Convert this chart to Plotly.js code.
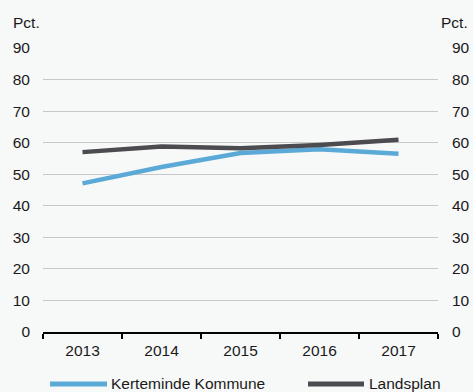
<!DOCTYPE html>
<html>
<head>
<meta charset="utf-8">
<script src="https://cdn.plot.ly/plotly-3.0.1.min.js"></script>
<style>html,body{margin:0;padding:0;background:#f7f8f8;}#chart{width:473px;height:392px;}</style>
</head>
<body>
<div id="chart"></div>
<script>
const years = ['2013', '2014', '2015', '2016', '2017'];
const kerteminde = [47.1, 52.3, 56.7, 57.9, 56.5];
const landsplan = [57.0, 58.8, 58.2, 59.3, 60.9];
const seriesNames = ['Kerteminde Kommune', 'Landsplan'];
const seriesColors = ['#5aa9d6', '#4b4b50'];
const yTicks = [0, 10, 20, 30, 40, 50, 60, 70, 80, 90];
const unitLabel = 'Pct.';

const font = {family: 'Liberation Sans, Arial, sans-serif', size: 15.5, color: '#1a1a1a'};

const traces = [
  {x: years, y: kerteminde, name: seriesNames[0], type: 'scatter', mode: 'lines',
   showlegend: false, line: {color: seriesColors[0], width: 4.5}},
  {x: years, y: landsplan, name: seriesNames[1], type: 'scatter', mode: 'lines',
   showlegend: false, line: {color: seriesColors[1], width: 4.5}},
  {x: years, y: landsplan, yaxis: 'y2', type: 'scatter', mode: 'lines', showlegend: false,
   hoverinfo: 'skip', line: {color: 'rgba(0,0,0,0)', width: 0}}
];

// custom legend (keys and labels) in paper coordinates
const legY = -0.183;
const legendItems = [
  {x0: 0.0177, x1: 0.162, tx: 0.1671},
  {x0: 0.6709, x1: 0.8127, tx: 0.8203}
];
const shapes = legendItems.map((it, i) => ({
  type: 'line', xref: 'paper', yref: 'paper', x0: it.x0, x1: it.x1, y0: legY, y1: legY,
  line: {color: seriesColors[i], width: 5}
}));
const legendAnn = legendItems.map((it, i) => ({
  text: seriesNames[i], xref: 'paper', yref: 'paper', x: it.tx, y: legY,
  xanchor: 'left', yanchor: 'middle', showarrow: false, font: font
}));

const layout = {
  width: 473, height: 392,
  margin: {l: 43, r: 35, t: 48, b: 60},
  paper_bgcolor: '#f7f8f8', plot_bgcolor: '#f7f8f8',
  font: font,
  showlegend: false,
  xaxis: {type: 'category', range: [-0.5, 4.5], tickson: 'boundaries', ticks: 'outside',
          ticklen: 5, tickwidth: 2, tickcolor: '#000', showline: true, linecolor: '#000',
          linewidth: 2, showgrid: false, zeroline: false, tickfont: font, fixedrange: true,
          ticklabelstandoff: 3},
  yaxis: {range: [0, 90], tickvals: yTicks, ticks: '', showline: false, showgrid: true,
          gridcolor: '#c8c8c8', gridwidth: 1, zeroline: false, tickfont: font,
          ticklabelstandoff: 12, fixedrange: true},
  yaxis2: {range: [0, 90], tickvals: yTicks, overlaying: 'y', side: 'right', anchor: 'x',
           showgrid: false, showline: false, zeroline: false, ticks: '', tickfont: font,
           ticklabelstandoff: 13, fixedrange: true},
  shapes: shapes,
  annotations: [
    {text: unitLabel, xref: 'paper', yref: 'paper', x: -0.081, y: 1.0915, xanchor: 'left',
     yanchor: 'middle', showarrow: false, font: font},
    {text: unitLabel, xref: 'paper', yref: 'paper', x: 1.081, y: 1.0915, xanchor: 'right',
     yanchor: 'middle', showarrow: false, font: font}
  ].concat(legendAnn)
};

Plotly.newPlot('chart', traces, layout, {displayModeBar: false, staticPlot: true});
</script>
</body>
</html>
